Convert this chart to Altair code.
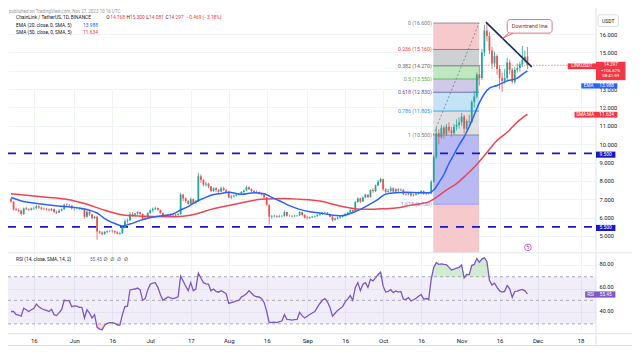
import altair as alt
import pandas as pd

# ------------------------------------------------------------------ data
FIRST_DAY = 6  # day 0 = 1 May 2023, first candle = 7 May 2023 (daily bars)

opens = [
    7.02, 6.86, 6.45, 6.42, 6.38, 6.2, 6.5, 6.45, 6.42, 6.5,
    6.52, 6.62, 6.55, 6.48, 6.46, 6.44, 6.4, 6.47, 6.3, 6.27,
    6.38, 6.45, 6.7, 6.68, 6.66, 6.5, 6.5, 6.5, 6.48, 6.46,
    6.05, 6.32, 6.18, 5.98, 6.05, 5.25, 5.18, 5.1, 5.22, 5.27,
    5.28, 5.26, 5.2, 5.12, 5.15, 5.45, 5.8, 5.85, 6.2, 6.15,
    6.22, 6.3, 6.2, 5.95, 6.0, 6.25, 6.4, 6.48, 6.52, 6.42,
    6.25, 6.05, 6.1, 6.15, 6.12, 6.1, 6.15, 6.2, 7.25, 7.05,
    6.9, 6.75, 7.0, 6.8, 6.88, 8.25, 8.05, 7.8, 7.85, 7.7,
    7.45, 7.6, 7.5, 7.42, 7.6, 7.5, 7.4, 7.1, 7.15, 7.2,
    7.25, 7.28, 7.4, 7.48, 7.65, 7.55, 7.45, 7.4, 7.38, 7.3,
    7.25, 7.1, 6.7, 6.05, 6.08, 6.1, 6.05, 6.08, 6.1, 6.3,
    6.1, 6.1, 6.08, 6.1, 6.12, 6.3, 6.15, 6.0, 5.98, 6.02,
    6.05, 6.08, 6.15, 6.2, 6.25, 6.27, 6.2, 6.05, 5.88, 5.95,
    6.0, 6.05, 6.1, 6.2, 6.28, 6.4, 6.32, 6.85, 7.05, 6.88,
    7.1, 7.25, 7.12, 7.5, 7.45, 7.75, 7.95, 8.1, 7.55, 7.4,
    7.45, 7.6, 7.42, 7.55, 7.48, 7.52, 7.28, 7.26, 7.33, 7.2,
    7.25, 7.3, 7.38, 7.45, 7.3, 7.33, 7.3, 7.95, 9.3, 10.6,
    10.4, 10.9, 10.55, 10.95, 10.75, 10.6, 10.95, 11.05, 11.2, 11.5,
    10.85, 11.25, 11.2, 12.3, 12.6, 13.8, 13.6, 15.0, 16.2, 15.9,
    15.1, 14.4, 14.8, 14.1, 13.6, 13.45, 13.6, 14.45, 14.05, 13.4,
    14.05, 14.15, 14.35, 14.6, 14.768,
]
highs = [
    7.08, 6.9, 6.55, 6.5, 6.42, 6.55, 6.6, 6.5, 6.55, 6.6,
    6.7, 6.68, 6.6, 6.55, 6.52, 6.5, 6.52, 6.5, 6.38, 6.45,
    6.5, 6.75, 6.78, 6.74, 6.68, 6.55, 6.6, 6.56, 6.52, 6.48,
    6.4, 6.35, 6.2, 6.1, 6.08, 5.3, 5.25, 5.28, 5.3, 5.32,
    5.35, 5.3, 5.25, 5.2, 5.5, 5.9, 5.95, 6.3, 6.3, 6.25,
    6.35, 6.32, 6.22, 6.05, 6.3, 6.45, 6.55, 6.6, 6.55, 6.45,
    6.28, 6.15, 6.2, 6.22, 6.18, 6.2, 6.25, 7.35, 7.3, 7.1,
    6.95, 7.1, 7.05, 6.95, 8.45, 8.35, 8.1, 7.95, 7.9, 7.72,
    7.65, 7.65, 7.55, 7.7, 7.7, 7.55, 7.45, 7.25, 7.25, 7.3,
    7.35, 7.45, 7.52, 7.75, 7.7, 7.6, 7.5, 7.48, 7.42, 7.35,
    7.3, 7.12, 6.72, 6.15, 6.15, 6.12, 6.15, 6.12, 6.4, 6.32,
    6.15, 6.12, 6.15, 6.15, 6.35, 6.32, 6.18, 6.08, 6.05, 6.1,
    6.12, 6.2, 6.25, 6.3, 6.32, 6.3, 6.22, 6.08, 6.0, 6.05,
    6.1, 6.15, 6.25, 6.32, 6.45, 6.42, 6.9, 7.1, 7.08, 7.15,
    7.3, 7.28, 7.55, 7.6, 7.8, 8.05, 8.17, 8.12, 7.6, 7.55,
    7.7, 7.65, 7.6, 7.6, 7.6, 7.55, 7.35, 7.4, 7.36, 7.3,
    7.35, 7.42, 7.5, 7.48, 7.38, 7.36, 8.05, 9.4, 10.9, 10.8,
    11.05, 11.0, 11.1, 11.2, 10.95, 11.1, 11.35, 11.45, 11.7, 11.6,
    11.35, 11.6, 12.4, 12.9, 13.9, 14.3, 15.2, 16.5, 16.6, 16.1,
    15.3, 15.05, 14.9, 14.3, 13.9, 14.1, 14.7, 14.6, 14.15, 14.2,
    14.4, 14.5, 15.35, 15.1, 15.3,
]
lows = [
    6.82, 6.38, 6.35, 6.3, 6.1, 6.15, 6.4, 6.35, 6.38, 6.42,
    6.45, 6.48, 6.42, 6.4, 6.38, 6.35, 6.36, 6.25, 6.2, 6.25,
    6.34, 6.42, 6.58, 6.6, 6.45, 6.38, 6.45, 6.42, 6.4, 5.95,
    6.0, 6.1, 5.9, 5.92, 4.8, 5.1, 5.05, 5.08, 5.15, 5.2,
    5.18, 5.12, 5.08, 5.05, 5.12, 5.42, 5.68, 5.82, 6.05, 6.1,
    6.15, 6.15, 5.9, 5.88, 5.98, 6.2, 6.3, 6.4, 6.38, 6.2,
    6.0, 6.0, 6.05, 6.08, 6.05, 6.05, 6.1, 6.15, 6.9, 6.8,
    6.7, 6.72, 6.75, 6.75, 6.85, 7.9, 7.7, 7.7, 7.6, 7.4,
    7.4, 7.4, 7.35, 7.4, 7.45, 7.35, 7.05, 7.0, 7.1, 7.15,
    7.2, 7.25, 7.35, 7.45, 7.5, 7.4, 7.35, 7.32, 7.25, 7.2,
    7.05, 6.65, 5.62, 5.95, 6.0, 6.0, 6.0, 6.02, 6.05, 6.05,
    6.05, 6.0, 6.02, 6.05, 6.1, 6.1, 5.95, 5.9, 5.92, 5.98,
    6.0, 6.05, 6.1, 6.15, 6.2, 6.15, 6.02, 5.8, 5.84, 5.9,
    5.95, 6.0, 6.05, 6.15, 6.25, 6.28, 6.3, 6.8, 6.8, 6.85,
    7.05, 7.05, 7.1, 7.35, 7.4, 7.7, 7.9, 7.45, 7.3, 7.35,
    7.4, 7.35, 7.4, 7.4, 7.45, 7.22, 7.2, 7.22, 7.15, 7.15,
    7.2, 7.25, 7.3, 7.25, 7.22, 7.25, 7.28, 7.9, 9.2, 10.0,
    10.3, 10.3, 10.45, 10.6, 10.4, 10.5, 10.75, 10.85, 11.0, 10.6,
    10.75, 11.0, 11.15, 12.0, 12.5, 13.2, 13.5, 14.8, 15.6, 14.9,
    14.1, 14.2, 13.8, 13.0, 12.85, 13.3, 13.5, 13.8, 13.3, 13.3,
    13.9, 13.95, 14.2, 14.45, 14.081,
]
closes = [
    6.86, 6.45, 6.42, 6.38, 6.2, 6.5, 6.45, 6.42, 6.5, 6.52,
    6.62, 6.55, 6.48, 6.46, 6.44, 6.4, 6.47, 6.3, 6.27, 6.38,
    6.45, 6.7, 6.68, 6.66, 6.5, 6.5, 6.5, 6.48, 6.46, 6.05,
    6.32, 6.18, 5.98, 6.05, 5.25, 5.18, 5.1, 5.22, 5.27, 5.28,
    5.26, 5.2, 5.12, 5.15, 5.45, 5.8, 5.85, 6.2, 6.15, 6.22,
    6.3, 6.2, 5.95, 6.0, 6.25, 6.4, 6.48, 6.52, 6.42, 6.25,
    6.05, 6.1, 6.15, 6.12, 6.1, 6.15, 6.2, 7.25, 7.05, 6.9,
    6.75, 7.0, 6.8, 6.88, 8.25, 8.05, 7.8, 7.85, 7.7, 7.45,
    7.6, 7.5, 7.42, 7.6, 7.5, 7.4, 7.1, 7.15, 7.2, 7.25,
    7.28, 7.4, 7.48, 7.65, 7.55, 7.45, 7.4, 7.38, 7.3, 7.25,
    7.1, 6.7, 6.05, 6.08, 6.1, 6.05, 6.08, 6.1, 6.3, 6.1,
    6.1, 6.08, 6.1, 6.12, 6.3, 6.15, 6.0, 5.98, 6.02, 6.05,
    6.08, 6.15, 6.2, 6.25, 6.27, 6.2, 6.05, 5.88, 5.95, 6.0,
    6.05, 6.1, 6.2, 6.28, 6.4, 6.32, 6.85, 7.05, 6.88, 7.1,
    7.25, 7.12, 7.5, 7.45, 7.75, 7.95, 8.1, 7.55, 7.4, 7.45,
    7.6, 7.42, 7.55, 7.48, 7.52, 7.28, 7.26, 7.33, 7.2, 7.25,
    7.3, 7.38, 7.45, 7.3, 7.33, 7.3, 7.95, 9.3, 10.6, 10.4,
    10.9, 10.55, 10.95, 10.75, 10.6, 10.95, 11.05, 11.2, 11.5, 10.85,
    11.25, 11.2, 12.3, 12.6, 13.8, 13.6, 15.0, 16.2, 15.9, 15.1,
    14.4, 14.8, 14.1, 13.6, 13.45, 13.6, 14.45, 14.05, 13.4, 14.05,
    14.15, 14.35, 14.6, 14.766, 14.297,
]
rsi_values = [
    40.5, 40.5, 38, 37.5, 36.5, 43.3, 42, 40.5, 42, 43,
    46.8, 44.6, 43, 42, 41.4, 40.5, 42.4, 37.8, 37, 39.5,
    42, 50, 49.8, 49.5, 44.6, 45.2, 45, 44, 44, 35,
    42, 39.2, 35, 37.8, 27, 25.6, 25, 28.8, 30.5, 31,
    31, 30.5, 29, 28.9, 37.8, 44.6, 45, 58.8, 59.2, 59.6,
    60.4, 58.8, 50, 51.4, 58.8, 63.7, 64.5, 65, 61, 55,
    50, 51.4, 52.8, 52, 51.4, 52, 53, 70.5, 66.4, 62,
    58.2, 65, 58.2, 59.6, 73.2, 69, 65, 64, 63.7, 58.2,
    59.6, 57.5, 56.9, 58.2, 57, 55.5, 47.3, 48, 48.7, 49.5,
    50, 52.8, 54, 55.5, 58.2, 56, 54, 53, 52.8, 51.4,
    48, 40.5, 31, 31.3, 31.5, 31, 31.8, 32.4, 37.8, 33.7,
    33.5, 33.2, 33.5, 33.7, 39.7, 37, 35, 36.5, 38, 39.2,
    40.5, 44, 47.3, 50, 51.4, 48.7, 44, 36.5, 39, 41.4,
    43, 44.6, 48.7, 51, 54, 50, 61, 65, 58.2, 63.7,
    65, 61, 67.8, 66.4, 69, 72, 74, 62, 57, 57.5,
    59, 56.5, 58, 57, 57.5, 51, 50.8, 52.3, 49.4, 50.5,
    51.8, 53.5, 55, 51, 51.5, 50.8, 68, 78, 82, 80.5,
    81, 80.5, 80.4, 78, 75.8, 76.5, 77.3, 78, 80, 69,
    72, 71.8, 79.5, 80.5, 85.5, 82.4, 85, 86, 83, 67,
    63, 64.5, 61, 58, 57, 57.6, 62.5, 59.8, 52.5, 57.5,
    57.8, 58.6, 59.2, 58, 55.45,
]
ema_days = [6, 12, 17, 22, 27, 30, 34, 37, 40, 43, 47, 50, 53, 57, 60, 66, 70, 73, 76, 79,
            82, 85, 89, 92, 97, 102, 106, 109, 112, 116, 120, 124, 128, 132, 136, 140, 144, 148, 151, 154,
            158, 162, 167, 171, 173, 175, 177, 179, 181, 183, 185, 187, 189, 191, 193, 195, 198, 202, 206, 208, 210]
ema_values = [7.1, 6.85, 6.76, 6.68, 6.6, 6.57, 6.5, 6.4, 6.25, 5.95, 5.68, 5.55, 5.65, 5.85, 5.97, 6.1, 6.2, 6.42, 6.6, 6.86,
              7.05, 7.22, 7.32, 7.38, 7.27, 7.36, 7.3, 7.1, 6.92, 6.65, 6.45, 6.32, 6.25, 6.15, 6.1, 6.22, 6.45, 6.75, 7.0, 7.28,
              7.36, 7.38, 7.36, 7.35, 7.5, 7.9, 8.35, 8.95, 9.45, 9.95, 10.4, 10.95, 11.6, 12.25, 12.75, 13.05, 13.2, 13.45, 13.6, 13.8, 13.988]
sma_days = [6, 17, 30, 35, 43, 51, 59, 63, 71, 79, 85, 95, 105, 114, 120, 128, 134, 139, 145, 151,
            158, 164, 171, 174, 178, 182, 186, 190, 194, 198, 202, 206, 210]
sma_values = [7.3, 7.15, 6.95, 6.77, 6.4, 6.13, 6.07, 6.06, 6.05, 6.2, 6.45, 6.74, 7.0, 7.04, 7.0, 6.9, 6.7, 6.55, 6.45, 6.47,
              6.52, 6.68, 6.86, 7.1, 7.5, 7.85, 8.35, 8.9, 9.55, 10.2, 10.65, 11.2, 11.634]

tick_days = [15, 31, 46, 61, 77, 92, 107, 123, 138, 153, 168, 184, 199, 214, 231]
tick_labels = ["16", "Jun", "16", "Jul", "17", "Aug", "16", "Sep", "16", "Oct", "16", "Nov", "16", "Dec", "18"]
price_ticks = [5, 6, 7, 8, 9, 10, 11, 12, 13, 14, 15, 16]
hidden_price_labels = [14]          # covered by the last-price tag in the reference
rsi_ticks = [40, 60, 80]
rsi_levels = [70, 50, 30]

fib_ratios = ["0", "0.236", "0.382", "0.5", "0.618", "0.786", "1", "1.618"]
fib_prices = [16.6, 15.16, 14.27, 13.55, 12.83, 11.805, 10.5, 6.73]
fib_start_day, fib_end_day = 172.8, 190.9
support_levels = [9.5, 5.5]
trend_days = [193.6, 211.7]
trend_prices = [16.65, 14.21]
last_price = 14.297
callout_days = [202.0, 219.75]
callout_prices = [16.05, 16.79]

# ------------------------------------------------------------------ style
FONT = "Roboto"
DARK = "#131722"
UP, DOWN = "#26a69a", "#ef5350"
EMA_C, SMA_C, RSI_C = "#2962ff", "#ef4452", "#7e57c2"
LVL_C = "#1717c4"
GRID = "#f0f3fa"
SEP = "#e0e3eb"
fib_fill = ["#f7c9cc", "#cfd0d4", "#bfe8c0", "#d0c9e8", "#c4e3f4", "#dfe0e3", "#b9baf3", "#f6c9cc"]
fib_line = ["#787b86", "#f23645", "#5d606b", "#4caf50", "#5b4fb8", "#2196f3", "#787b86", "#8c8ff0"]

W, H = 588, 326
X_MIN, X_MAX = 4.806, 237.09
P_MIN, P_MAX = 4.105, 17.158
R_MIN, R_MAX = 21.8, 89.84

label_expr = "".join(f"datum.value === {d} ? '{l}' : " for d, l in zip(tick_days, tick_labels)) + "''"
price_expr = "".join(f"datum.value === {v} ? '' : " for v in hidden_price_labels) + "format(datum.value, '.3f')"
X_SCALE = alt.Scale(domain=[X_MIN, X_MAX], nice=False, zero=False)
X_AXIS = alt.Axis(values=tick_days, labelExpr=label_expr, title=None, grid=True, gridColor=GRID,
                  ticks=False, domain=False, labelFontSize=6, labelColor=DARK, labelFont=FONT,
                  labelPadding=3, labelFlush=False, labelOverlap=False)
PY_SCALE = alt.Scale(domain=[P_MIN, P_MAX], range=[244.4, 4.8], nice=False, zero=False)
PY_AXIS = alt.Axis(orient="right", values=price_ticks, labelExpr=price_expr, title=None, grid=True, gridColor=GRID,
                   ticks=False, domain=False, labelFontSize=5.8, labelColor=DARK, labelFont=FONT,
                   labelPadding=3, labelFlush=False, labelOverlap=False)
RY_SCALE = alt.Scale(domain=[R_MIN, R_MAX], range=[325.5, 245.4], nice=False, zero=False)
RY_AXIS = alt.Axis(orient="right", values=rsi_ticks, format=".2f", title=None, grid=True, gridColor=GRID,
                   ticks=False, domain=False, labelFontSize=5.6, labelColor=DARK, labelFont=FONT,
                   labelPadding=3, labelOffset=-1.6, labelFlush=False, labelOverlap=False)


def X(f):
    return alt.X(f"{f}:Q", scale=X_SCALE, axis=X_AXIS)


def PY(f):
    return alt.Y(f"{f}:Q", scale=PY_SCALE, axis=PY_AXIS)


def RY(f):
    return alt.Y(f"{f}:Q", scale=RY_SCALE, axis=RY_AXIS)


# ------------------------------------------------------------------ tables
n = len(closes)
candles = pd.DataFrame({
    "d": list(range(FIRST_DAY, FIRST_DAY + n)),
    "o": opens, "h": highs, "l": lows, "c": closes,
})
candles["col"] = [UP if c >= o else DOWN for o, c in zip(opens, closes)]
rsi_df = pd.DataFrame({"d": list(range(FIRST_DAY, FIRST_DAY + n)), "rsi": rsi_values})
ema_df = pd.DataFrame({"d": ema_days, "v": ema_values})
sma_df = pd.DataFrame({"d": sma_days, "v": sma_values})

bottoms = fib_prices[1:] + [P_MIN]
fib_bands = pd.DataFrame({"x0": fib_start_day, "x1": fib_end_day, "top": fib_prices, "bot": bottoms, "fill": fib_fill})
fib_lv = pd.DataFrame({
    "x0": fib_start_day, "x1": fib_end_day, "p": fib_prices, "col": fib_line,
    "label": [f"{r} ({p:.3f})" for r, p in zip(fib_ratios, fib_prices)],
})
fib_diag = pd.DataFrame({"d": [fib_start_day, fib_end_day], "p": [fib_prices[6], fib_prices[0]]})
supports = pd.DataFrame({"x0": X_MIN, "x1": 236.0, "p": support_levels})
price_line = pd.DataFrame({"x0": [fib_end_day], "x1": [X_MAX], "p": [last_price]})
trend = pd.DataFrame({"d": trend_days, "p": trend_prices})
callout = pd.DataFrame({"x0": [callout_days[0]], "x1": [callout_days[1]], "p0": [callout_prices[0]], "p1": [callout_prices[1]],
                        "xm": [sum(callout_days) / 2], "pm": [sum(callout_prices) / 2], "t": ["Downtrend line"]})
tail = pd.DataFrame({"d": [202.6, 200.2, 204.3], "p": [16.05, 15.77, 16.05], "k": [0, 1, 2]})
icon = pd.DataFrame({"d": [210.2], "p": [4.38]})

rsi_band = pd.DataFrame({"x0": [X_MIN], "x1": [X_MAX], "lo": [30], "hi": [70]})
rsi_lines = pd.DataFrame({"x0": X_MIN, "x1": X_MAX, "v": rsi_levels})

# ------------------------------------------------------------------ price pane
price_layers = [
    alt.Chart(fib_bands).mark_rect().encode(x=X("x0"), x2="x1", y=PY("top"), y2="bot",
                                            color=alt.Color("fill:N", scale=None)),
    alt.Chart(fib_lv).mark_rule(strokeWidth=0.8).encode(x=X("x0"), x2="x1", y=PY("p"),
                                                        color=alt.Color("col:N", scale=None)),
    alt.Chart(fib_lv).mark_text(align="right", baseline="middle", dx=-1.5, fontSize=5.2, font=FONT).encode(
        x=X("x0"), y=PY("p"), text="label:N", color=alt.Color("col:N", scale=None)),
    alt.Chart(fib_diag).mark_line(strokeDash=[2, 2], strokeWidth=0.8, color="#787b86").encode(x=X("d"), y=PY("p")),
    alt.Chart(supports).mark_rule(strokeDash=[8, 8], strokeWidth=1.8, color=LVL_C).encode(x=X("x0"), x2="x1", y=PY("p")),
    alt.Chart(candles).mark_rule(strokeWidth=0.8).encode(x=X("d"), y=PY("l"), y2="h",
                                                         color=alt.Color("col:N", scale=None)),
    alt.Chart(candles).mark_rule(strokeWidth=1.8).encode(x=X("d"), y=PY("o"), y2="c",
                                                         color=alt.Color("col:N", scale=None)),
    alt.Chart(sma_df).mark_line(color=SMA_C, strokeWidth=1.5, interpolate="monotone").encode(x=X("d"), y=PY("v")),
    alt.Chart(ema_df).mark_line(color=EMA_C, strokeWidth=1.5, interpolate="monotone").encode(x=X("d"), y=PY("v")),
    alt.Chart(price_line).mark_rule(color=DOWN, strokeDash=[1.5, 1.5], strokeWidth=0.8, opacity=0.8).encode(
        x=X("x0"), x2="x1", y=PY("p")),
    alt.Chart(trend).mark_line(color="#1f2a55", strokeWidth=1.6).encode(x=X("d"), y=PY("p")),
    alt.Chart(callout).mark_rect(fill="white", stroke="#e06666", strokeWidth=0.9, cornerRadius=3).encode(
        x=X("x0"), x2="x1", y=PY("p0"), y2="p1"),
    alt.Chart(tail).mark_line(color="#e06666", strokeWidth=0.9).encode(x=X("d"), y=PY("p"), order="k:Q"),
    alt.Chart(callout).mark_text(fontSize=5.4, font=FONT, color="#9c2727").encode(x=X("xm"), y=PY("pm"), text="t:N"),
    alt.Chart(icon).mark_point(shape="circle", size=45, color="#9c27b0", strokeWidth=0.9).encode(x=X("d"), y=PY("p")),
    alt.Chart(icon).mark_text(text="ϟ", fontSize=6, color="#9c27b0", font="DejaVu Sans").encode(x=X("d"), y=PY("p")),
]
price_group = alt.layer(*price_layers)

# ------------------------------------------------------------------ RSI pane
rsi_layers = [
    alt.Chart(rsi_band).mark_rect(color=RSI_C, opacity=0.1).encode(x=X("x0"), x2="x1", y=RY("lo"), y2="hi"),
    alt.Chart(rsi_lines).mark_rule(color="#9598a1", strokeDash=[3, 3], strokeWidth=0.8).encode(x=X("x0"), x2="x1", y=RY("v")),
    alt.Chart(rsi_df).transform_calculate(top="max(datum.rsi, 70)", base="70").mark_area(color="#4caf50", opacity=0.25).encode(
        x=X("d"), y=RY("top"), y2="base:Q"),
    alt.Chart(rsi_df).transform_calculate(bot="min(datum.rsi, 30)", base="30").mark_area(color="#f23645", opacity=0.2).encode(
        x=X("d"), y=RY("bot"), y2="base:Q"),
    alt.Chart(rsi_df).mark_line(color=RSI_C, strokeWidth=1.3).encode(x=X("d"), y=RY("rsi")),
]
rsi_group = alt.layer(*rsi_layers)

# ------------------------------------------------------------------ chrome (pixel annotations)
ONE = pd.DataFrame({"k": [0]})


def prule(x0, x1, y0, y1, color=SEP, width=1.0):
    return alt.Chart(ONE).mark_rule(color=color, strokeWidth=width).encode(
        x=alt.value(x0), x2=alt.value(x1), y=alt.value(y0), y2=alt.value(y1))


def pbox(x0, x1, y0, y1, fill, stroke=None, radius=0):
    kw = dict(fill=fill, cornerRadius=radius)
    if stroke:
        kw.update(stroke=stroke, strokeWidth=0.8)
    return alt.Chart(ONE).mark_rect(**kw).encode(
        x=alt.value(x0), x2=alt.value(x1), y=alt.value(y0), y2=alt.value(y1))


def ptext(x, y, s, color=DARK, size=4.8, align="left", baseline="middle", font=FONT):
    return alt.Chart(ONE).mark_text(text=s, color=color, fontSize=size, align=align,
                                    baseline=baseline, font=font).encode(x=alt.value(x), y=alt.value(y))


RED_TAG = "#f23645"
HY1, HY2, HY3 = 10.4, 17.8, 25.0
decor = [
    prule(0, 624, 244.9, 244.9),
    prule(0, 624, 325.7, 325.7),
    prule(0, 624, 337.5, 337.5),
    prule(588, 588, 0, 338),
    # header
    ptext(1, 1.0, "published on TradingView.com, Nov 27, 2023 10:16 UTC", "#9598a1", 4.5, baseline="top"),
    ptext(8.1, HY1, "ChainLink / TetherUS, 1D, BINANCE"),
    ptext(98.3, HY1, "O"), ptext(102.2, HY1, "14.768", RED_TAG),
    ptext(118.4, HY1, "H"), ptext(122.0, HY1, "15.300", RED_TAG),
    ptext(138.2, HY1, "L"), ptext(141.1, HY1, "14.081", RED_TAG),
    ptext(157.4, HY1, "C"), ptext(160.9, HY1, "14.297", RED_TAG),
    ptext(178.6, HY1, "\u22120.469 (\u22123.18%)", RED_TAG),
    ptext(8.1, HY2, "EMA (20, close, 0, SMA, 5)"), ptext(75.1, HY2, "13.988", EMA_C),
    ptext(8.1, HY3, "SMA (50, close, 0, SMA, 5)"), ptext(75.1, HY3, "11.634", RED_TAG),
    ptext(8.0, 252.1, "RSI (14, close, SMA, 14, 2)"), ptext(81.9, 252.1, "55.45", RSI_C),
    ptext(95.5, 252.1, "\u2205", DARK, 4.8, font="DejaVu Sans"), ptext(102.3, 252.1, "\u2205", DARK, 4.8, font="DejaVu Sans"),
    ptext(109.1, 252.1, "\u2205", DARK, 4.8, font="DejaVu Sans"), ptext(115.9, 252.1, "\u2205", DARK, 4.8, font="DejaVu Sans"),
    # right-hand scale tags
    pbox(590, 610.4, 6.8, 18.4, "white", "#d1d4dc", 2), ptext(600.2, 12.6, "USDT", DARK, 5.0, "center"),
    pbox(559.7, 588, 55.4, 61.2, RED_TAG), ptext(573.8, 58.3, "LINKUSDT", "white", 4.6, "center"),
    pbox(588, 617.5, 53.8, 72.2, RED_TAG),
    ptext(602.7, 57.3, "14.297", "white", 4.6, "center"),
    ptext(602.7, 62.9, "+106.87%", "white", 4.4, "center"),
    ptext(602.7, 68.3, "08:41:59", "white", 4.4, "center"),
    pbox(573.3, 588, 75.3, 80.5, EMA_C), ptext(580.6, 77.9, "EMA", "white", 4.6, "center"),
    pbox(588, 609.4, 75.3, 80.5, EMA_C), ptext(598.7, 77.9, "13.988", "white", 4.8, "center"),
    pbox(566.5, 588, 103.8, 109.6, RED_TAG), ptext(577.2, 106.7, "SMA:MA", "white", 4.6, "center"),
    pbox(588, 609.4, 103.8, 109.6, RED_TAG), ptext(598.7, 106.7, "11.634", "white", 4.8, "center"),
    pbox(588, 607.4, 143.6, 149.7, LVL_C), ptext(597.7, 146.7, "9.500", "white", 4.9, "center"),
    pbox(588, 607.4, 216.9, 223.0, LVL_C), ptext(597.7, 220.0, "5.500", "white", 4.9, "center"),
    pbox(577.2, 588, 283.4, 289.6, RSI_C), ptext(582.6, 286.5, "RSI", "white", 4.6, "center"),
    pbox(588, 607.4, 283.4, 289.6, RSI_C), ptext(597.7, 286.5, "55.45", "white", 4.7, "center"),
]

chart = (
    alt.layer(price_group, rsi_group, *decor)
    .resolve_scale(y="independent")
    .properties(width=W, height=H, autosize=alt.AutoSizeParams(type="none"),
                padding={"left": 0, "top": 0, "right": 36, "bottom": 12}, background="white")
    .configure_view(stroke=None)
)

chart.save("out.html", embed_options={"renderer": "svg", "actions": False})
